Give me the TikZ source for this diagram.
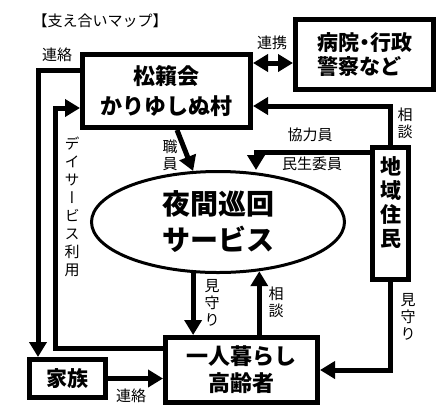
\documentclass[tikz,border=0pt]{standalone}
\usepackage{fontspec}
\setmainfont{Noto Sans CJK JP}
\newfontfamily\vjp[RawFeature=+vert]{Noto Sans CJK JP}
\usetikzlibrary{arrows.meta,shapes.geometric}
\tikzset{
  box/.style={draw, line width=5pt, inner sep=0pt, align=center,
    font=\bfseries\fontsize{22}{28}\selectfont},
  conn/.style={line width=5pt, -{Triangle[length=15pt,width=17pt]}},
  dconn/.style={line width=5pt, {Triangle[length=15pt,width=17pt]}-{Triangle[length=15pt,width=17pt]}},
  lab/.style={inner sep=0pt, align=center, font=\fontsize{15}{17}\selectfont},
}
\begin{document}
\begin{tikzpicture}[x=1pt,y=-1pt]
\path[fill=white,use as bounding box] (0,0) rectangle (446,418);

\node[lab, font=\fontsize{15}{18}\selectfont] (title) at (100,21) {【支え合いマップ】};

\node[box, minimum width=168pt, minimum height=73pt, font=\bfseries\fontsize{22}{30}\selectfont] (shorai) at (166.5,91) {松籟会\\かりゆしぬ村};
\node[box, minimum width=138pt, minimum height=70pt, align=left, font=\bfseries\fontsize{21}{24}\selectfont] (byoin) at (364.5,54.5) {病院\hspace{-5pt}・\hspace{-5pt}行政\\警察など};
\node[box, minimum width=36pt, minimum height=132pt, font=\bfseries\fontsize{21}{24}\selectfont] (chiiki) at (390.5,213.5) {地\\域\\住\\民\\\mbox{}};
\node[draw, ellipse, line width=3pt, inner sep=0pt, minimum width=253pt, minimum height=101pt, align=center, font=\bfseries\fontsize{28}{36}\selectfont] (yakan) at (218,222) {夜間巡回\\サービス};
\node[box, minimum width=152pt, minimum height=65pt, font=\bfseries\fontsize{22}{27}\selectfont] (hitori) at (241.5,370) {一人暮らし\\高齢者};
\node[box, minimum width=76pt, minimum height=38pt, font=\bfseries\fontsize{21}{24}\selectfont] (kazoku) at (67.5,378.5) {家族};

% connectors
\coordinate (c1) at ([yshift=-8.5pt]byoin.west);
\draw[dconn] (shorai.east |- c1) -- (c1);
\draw[conn] (chiiki.north) |- ([yshift=-15pt]shorai.east);
\coordinate (k2) at (256,152);
\draw[conn] (chiiki.west |- k2) -- (k2) -- (k2 |- yakan.north);
\draw[conn] ([xshift=10.5pt]shorai.south) -- (yakan.116);
\draw[conn] (yakan.244) -- (yakan.244 |- hitori.north);
\draw[conn] (yakan.310 |- hitori.north) -- (yakan.310);
\draw[conn] ([yshift=21pt]shorai.west) -| ([xshift=-29.5pt]kazoku.north);
\coordinate (k4) at (55,108);
\draw[conn] ([yshift=22pt]hitori.west) -| (k4) -- (shorai.west |- k4);
\draw[conn] (kazoku.east) -- (hitori.west |- kazoku.east);
\draw[conn] (chiiki.south) |- (hitori.east);

% labels
\node[lab] (l1) at (272,43) {連携};
\node[lab] (l2) at (57,55) {連絡};
\node[lab] (l3) at (405,123) {相\\談};
\node[lab] (l4) at (310,135) {協力員};
\node[lab] (l5) at (312,164) {民生委員};
\node[lab] (l6) at (170,155) {職\\員};
\node[lab, font=\vjp\fontsize{15}{18}\selectfont] (l7) at (72,207) {デ\\イ\\サ\\ー\\ビ\\ス\\利\\用};
\node[lab] (l8) at (212,303) {見\\守\\り};
\node[lab] (l9) at (276,302) {相\\談};
\node[lab] (l10) at (408,317) {見\\守\\り};
\node[lab] (l11) at (131,396) {連絡};
\end{tikzpicture}
\end{document}
